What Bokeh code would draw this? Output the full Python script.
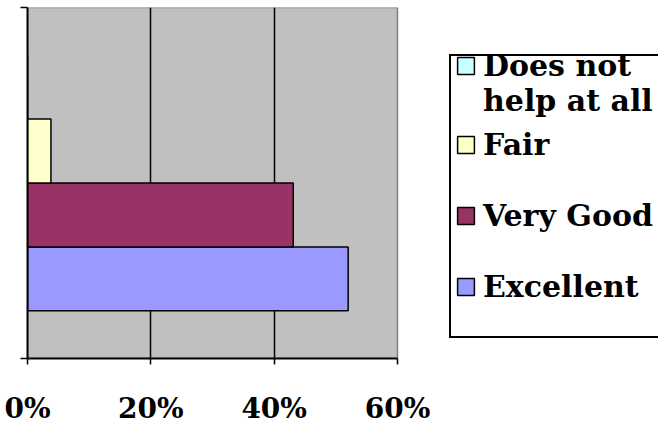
from bokeh.plotting import figure
from bokeh.models import Range1d, FixedTicker, Legend, LegendItem, ColumnDataSource
from bokeh.embed import file_html
from bokeh.resources import INLINE

# ---- data ----
categories = ["Excellent", "Very Good", "Fair", "Does not help at all"]
legend_lines = ["Does not", "help at all"]   # how the last category wraps in the legend
values = [52.0, 43.1, 3.8, 0.0]
colors = ["#9999FF", "#993366", "#FFFFCC", "#CCFFFF"]
x_ticks = [0, 20, 40, 60]
x_tick_labels = ["0%", "20%", "40%", "60%"]

FONT = "DejaVu Serif"
XMAX = x_ticks[-1]

gap = 0.745
ys = [gap + 0.5 + i for i in range(len(categories))]
ytop = len(categories) + 2 * gap

src = ColumnDataSource(dict(y=ys, v=values, c=colors, cat=categories))

FRAME_W = 631   # plot area (370 px) + legend area to the right
p = figure(width=658, height=427,
           x_range=Range1d(0, XMAX * FRAME_W / 370), y_range=Range1d(0, ytop),
           output_backend="svg", toolbar_location=None,
           min_border_left=27, min_border_top=7, min_border_bottom=67,
           min_border_right=0)

p.background_fill_color = "white"
p.border_fill_color = "white"
p.outline_line_color = None

# grey plot area, bounded by the 0..60% value axis
p.quad(left=[0], right=[XMAX], bottom=[0], top=[ytop],
       fill_color="#C0C0C0", line_color="#808080", line_width=1.5, level="image")

r = p.hbar(y="y", right="v", left=0, height=1, fill_color="c",
           line_color="black", line_width=1.5, source=src)

# an empty, invisible renderer used for legend rows without a swatch
blank = p.hbar(y=[], right=[], left=0, height=1, fill_alpha=0, line_alpha=0)

# grid
p.ygrid.visible = False
p.xgrid.ticker = FixedTicker(ticks=[20, 40])
p.xgrid.grid_line_color = "black"
p.xgrid.grid_line_width = 1.5

# x axis
xa = p.xaxis[0]
xa.bounds = (0, XMAX)
xa.ticker = FixedTicker(ticks=x_ticks)
xa.major_label_overrides = {t: l for t, l in zip(x_ticks, x_tick_labels)}
xa.major_label_text_font = FONT
xa.major_label_text_font_style = "bold"
xa.major_label_text_font_size = "28px"
xa.major_label_text_color = "black"
xa.major_label_standoff = 27
xa.axis_line_color = "black"
xa.axis_line_width = 2
xa.major_tick_out = 6
xa.major_tick_in = 0
xa.major_tick_line_width = 1.5
xa.minor_tick_line_color = None

# y axis (no labels, ticks only at both ends)
ya = p.yaxis[0]
ya.ticker = FixedTicker(ticks=[0, ytop])
ya.major_label_overrides = {0: "", ytop: ""}
ya.major_label_standoff = 0
ya.axis_line_color = "black"
ya.axis_line_width = 2
ya.major_tick_out = 7
ya.major_tick_in = 0
ya.major_tick_line_width = 1.5
ya.minor_tick_line_color = None


def style(lg, border=False):
    lg.label_text_font = FONT
    lg.label_text_font_style = "bold"
    lg.label_text_font_size = "30px"
    lg.label_text_color = "black"
    lg.glyph_width = 21
    lg.glyph_height = 21
    lg.label_standoff = 7
    lg.padding = 0
    lg.margin = 0
    if border:
        lg.border_line_color = "black"
        lg.border_line_alpha = 1
        lg.border_line_width = 2
        lg.background_fill_color = "white"
        lg.background_fill_alpha = 1
    else:
        lg.border_line_color = None
        lg.background_fill_alpha = 0


# legend frame
box = Legend(items=[LegendItem(label=" ", renderers=[blank])], location=(422, 20))
style(box, border=True)
box.label_height = 280
box.label_width = 250
p.add_layout(box, "center")

# first entry (wrapped on two lines)
leg_a = Legend(items=[LegendItem(label=legend_lines[0], renderers=[r], index=3),
                      LegendItem(label=legend_lines[1], renderers=[blank])],
               location=(428, 240))
style(leg_a)
leg_a.spacing = 0
p.add_layout(leg_a, "center")

# remaining entries
leg_b = Legend(items=[LegendItem(label=categories[i], renderers=[r], index=i) for i in [2, 1, 0]],
               location=(428, 54))
style(leg_b)
leg_b.label_height = 36
leg_b.spacing = 35
p.add_layout(leg_b, "center")

open("out.html", "w").write(file_html(p, INLINE))
